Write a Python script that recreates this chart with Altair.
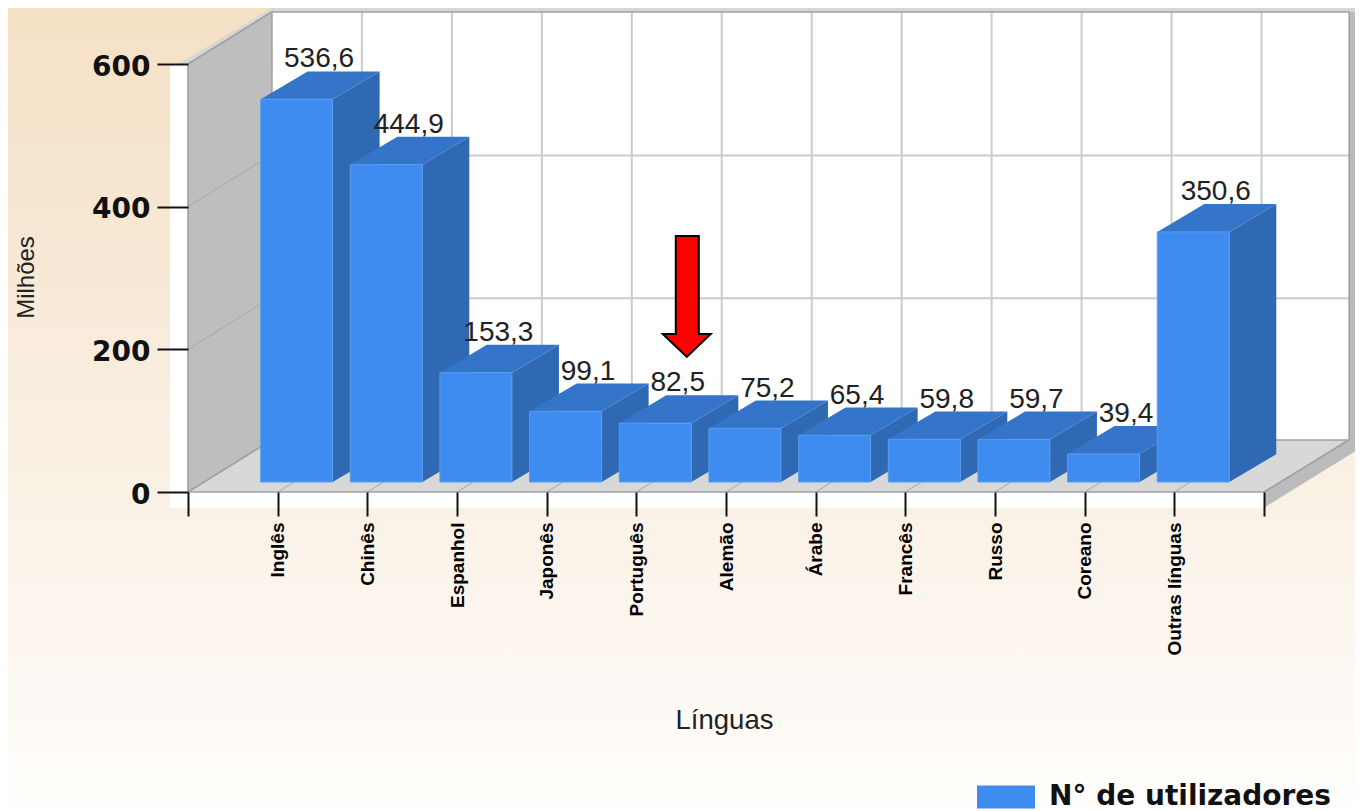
import altair as alt
import pandas as pd

linguas = ["Inglês", "Chinês", "Espanhol", "Japonês", "Português", "Alemão",
           "Árabe", "Francês", "Russo", "Coreano", "Outras línguas"]
utilizadores = [536.6, 444.9, 153.3, 99.1, 82.5, 75.2, 65.4, 59.8, 59.7, 39.4, 350.6]
y_ticks = [0, 200, 400, 600]
serie = "N° de utilizadores"

# 3D projection constants, in data units
BASE, BAR_L, BAR_W = 14, -0.19, 0.803
DX, DY = 0.524, 39
WX, WY = 0.936, 73
XMAX = 12.95

XS = alt.Scale(domain=[0, 12], nice=False, zero=False)
YS = alt.Scale(domain=[0, 600], nice=False, zero=False)

names_expr = "[''," + ",".join(f"'{n}'" for n in linguas) + ",''][datum.value]"
X_AXIS = alt.Axis(
    values=list(range(13)), labelExpr=names_expr, domain=False, grid=False,
    tickColor="#111111", tickWidth=2, tickSize=24, labelAngle=270, labelAlign="right",
    labelBaseline="middle", labelFont="Liberation Sans", labelFontWeight="bold",
    labelFontSize=19, labelColor="#000000", labelPadding=6, labelOverlap=False,
    labelBound=False, labelFlush=False, title="Línguas", titleFont="Liberation Sans",
    titleFontWeight="normal", titleFontSize=27.5, titleColor="#222222", titleX=536,
    titleY=228, titleBaseline="middle", titleAlign="center", zindex=1,
)
Y_AXIS = alt.Axis(
    values=y_ticks, domain=False, grid=False, tickColor="#111111", tickWidth=2,
    tickSize=31, labelFont="DejaVu Sans", labelFontWeight="bold", labelFontSize=28,
    labelColor="#111111", labelPadding=7, labelOffset=3, labelOverlap=False, labelBound=False,
    labelFlush=False, title="Milhões", titleFont="Liberation Sans", titleFontWeight="normal",
    titleFontSize=24, titleColor="#222222", titleAngle=270, titleX=-162, titleY=213,
    titleBaseline="middle", titleAlign="center", zindex=1,
)

def X(f="x"):
    return alt.X(f"{f}:Q", scale=XS, axis=X_AXIS)

def Y(f="y"):
    return alt.Y(f"{f}:Q", scale=YS, axis=Y_AXIS, stack=None)

def poly_v(rows, color, **kw):
    return alt.Chart(pd.DataFrame(rows, columns=["x", "y", "y2"])).mark_area(
        orient="vertical", color=color, **kw
    ).encode(x=X(), y=Y(), y2="y2:Q")

def poly_h(rows, color, **kw):
    d = pd.DataFrame(rows, columns=["y", "x", "x2"])
    return alt.Chart(d).mark_area(orient="horizontal", color=color, **kw).encode(
        y=Y(), x=X(), x2="x2:Q"
    )

def rect(x, x2, y, y2, color):
    d = pd.DataFrame({"x": [x], "x2": [x2], "y": [y], "y2": [y2]})
    return alt.Chart(d).mark_rect(color=color).encode(x=X(), x2="x2:Q", y=Y(), y2="y2:Q")

def segs(rows, color, width):
    d = pd.DataFrame(rows, columns=["s", "x", "y"])
    return alt.Chart(d).mark_line(color=color, strokeWidth=width, clip=False).encode(
        x=X(), y=Y(), detail="s:N", order=alt.Order("y:Q")
    )

# page background
bg = alt.Chart(pd.DataFrame({"a": [0]})).mark_rect(
    fill=alt.LinearGradient(
        gradient="linear", x1=0, x2=0, y1=0, y2=1,
        stops=[alt.GradientStop(color="#f4e0c5", offset=0),
               alt.GradientStop(color="#faf1e6", offset=0.62),
               alt.GradientStop(color="#fffefc", offset=1)],
    )
).encode(x=alt.value(-180), x2=alt.value(1167), y=alt.value(-56), y2=alt.value(744))

# chart box
panel = rect(-0.2, 12.006, -22.4, 600, "#ffffff")
back = rect(WX, XMAX, WY, 600 + WY, "#ffffff")
left_wall = poly_v([(0, 600, 0), (WX, 600 + WY, WY)], "#bebebe")
floor = poly_h([(0, 0, 12), (WY, WX, XMAX)], "#d8d8d8")
band_r = rect(XMAX, 13.1, 63, 600 + WY, "#bbbbbb")
band_d = poly_v([(12, 0, -22), (XMAX, WY, 52), (13.1, WY, 63)], "#bbbbbb")
band_t1 = poly_v([(-0.11, 600, 600), (0, 608, 600), (WX, 678.5, 600 + WY)], "#d6d6d6")
band_t2 = rect(WX, 13.1, 600 + WY, 678.5, "#d6d6d6")

v_rows = [(f"v{k}", WX + k * 1.0033, WY + t) for k in range(1, 12) for t in (0, 600)]
h_rows = [(f"h{v}", x, v + WY - 1.4) for v in (200, 400) for x in (WX, XMAX)]
grid = segs(v_rows + h_rows, "#cbcbcb", 2)
diag_rows = [(f"d{v}", x, v + t) for v in (200, 400) for x, t in ((0, 0), (WX, WY))]
diag_rows += [(f"f{k}", k + t * WX, t * WY) for k in range(1, 13) for t in (0, 1)]
diags = segs(diag_rows, "#a6a6a6", 1)
edges = segs(
    [("a", 0, 0), ("a", 0, 600), ("b", WX, WY), ("b", WX, 600 + WY),
     ("c", 0, 0), ("c", 12, 0), ("d", WX, WY), ("d", XMAX, WY),
     ("e", WX, 600 + WY), ("e", XMAX, 600 + WY), ("f", XMAX, WY), ("f", XMAX, 600 + WY),
     ("g", 0, 0), ("g", WX, WY), ("h", 0, 600), ("h", WX, 600 + WY), ("i", 12, 0), ("i", XMAX, WY)],
    "#a0a0a0", 1.6,
)

# bars
rows = []
for i, v in enumerate(utilizadores):
    k = i + 1
    rows.append({"k": k, "lingua": linguas[i], "serie": serie, "x0": k + BAR_L, "x1": k + BAR_L + BAR_W,
                 "top": BASE + v, "base": BASE, "rotulo": f"{v:.1f}".replace(".", ","),
                 "lx": k + BAR_L + BAR_W / 2 + 0.25, "ly": BASE + v + DY})
bars = pd.DataFrame(rows)

side_rows, top_rows = [], []
for r in rows:
    side_rows += [{"k": r["k"], "x": r["x1"], "y": r["top"], "y2": BASE},
                  {"k": r["k"], "x": r["x1"] + DX, "y": r["top"] + DY, "y2": BASE + DY}]
    top_rows += [{"k": r["k"], "y": r["top"], "x": r["x0"], "x2": r["x1"]},
                 {"k": r["k"], "y": r["top"] + DY, "x": r["x0"] + DX, "x2": r["x1"] + DX}]

sides = alt.Chart(pd.DataFrame(side_rows)).mark_area(orient="vertical", color="#2f69b3").encode(
    x=X(), y=Y(), y2="y2:Q", detail="k:N")
tops = alt.Chart(pd.DataFrame(top_rows)).mark_area(orient="horizontal", color="#3575c9").encode(
    y=Y(), x=X(), x2="x2:Q", detail="k:N")
fronts = alt.Chart(bars).mark_rect(stroke="#5b9bee", strokeWidth=1).encode(
    x=X("x0"), x2="x1:Q", y=Y("top"), y2="base:Q",
    color=alt.Color("serie:N", scale=alt.Scale(range=["#3f8cf0"]), legend=alt.Legend(
        title=None, orient="none", legendX=789, legendY=704,
        symbolType="M-1,-0.4H1V0.4H-1Z", symbolSize=3364, symbolStrokeWidth=0,
        labelFont="DejaVu Sans", labelFontWeight="bold", labelFontSize=28, labelColor="#111111",
        labelOffset=14, labelLimit=400,
    )),
)
texts = alt.Chart(bars).mark_text(
    font="Liberation Sans", fontSize=28, color="#222222", baseline="alphabetic", dy=-4, align="center",
).encode(x=X("lx"), y=Y("ly"), text="rotulo:N")

# red arrow
arrow = poly_h(
    [(189.3, 5.563, 5.563), (221.4, 5.295, 5.83), (221.5, 5.44, 5.697), (358.9, 5.44, 5.697)],
    "#ff0000", stroke="#000000", strokeWidth=2,
)

chart = alt.layer(
    bg, panel, back, left_wall, floor, band_r, band_d, band_t1, band_t2,
    grid, diags, edges, sides, tops, fronts, texts, arrow,
).properties(
    width=1076, height=428,
    padding={"left": 180, "top": 56, "right": 91, "bottom": 319},
    autosize=alt.AutoSizeParams(type="none"),
).configure_view(stroke=None)

chart.save("out.html", embed_options={"renderer": "svg", "actions": False})
